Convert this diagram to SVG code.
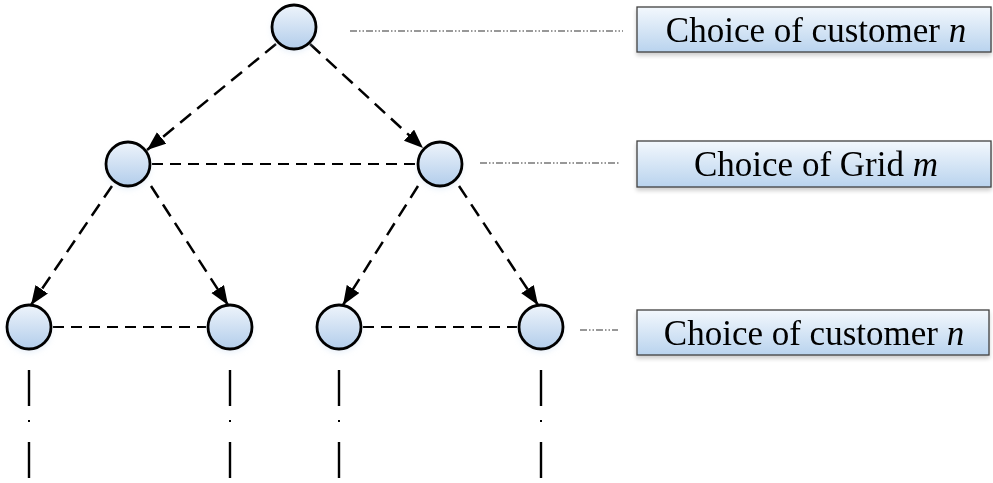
<svg xmlns="http://www.w3.org/2000/svg" width="993" height="483" viewBox="0 0 993 483">
  <style>
    .node { fill: url(#nodeFill); stroke: #000; stroke-width: 2.8; }
    .halo { fill: #c9dcf1; opacity: 0.5; filter: url(#soft); }
    .arrow { fill: none; stroke: #000; stroke-width: 2.5; stroke-dasharray: 14 8; }
    .link { fill: none; stroke: #000; stroke-width: 1.8; stroke-dasharray: 11 7; }
    .guide { fill: none; stroke: #333; stroke-width: 1.1; stroke-dasharray: 7 2 1.5 2 1.5 2; }
    .cont { fill: none; stroke: #000; stroke-width: 2.4; }
    .label-box { fill: url(#boxFill); stroke: #404040; stroke-width: 1.3; }
    .label { font-family: "Liberation Serif", "Times New Roman", serif; font-size: 35px; fill: #000; text-anchor: middle; }
  </style>
  <defs>
    <linearGradient id="nodeFill" x1="0" y1="0" x2="0" y2="1">
      <stop offset="0" stop-color="#eef4fb"/>
      <stop offset="1" stop-color="#b2cdeb"/>
    </linearGradient>
    <linearGradient id="boxFill" x1="0" y1="0" x2="0" y2="1">
      <stop offset="0" stop-color="#f3f8fd"/>
      <stop offset="1" stop-color="#b9d3ee"/>
    </linearGradient>
    <filter id="soft" x="-50%" y="-50%" width="200%" height="200%">
      <feGaussianBlur stdDeviation="3"/>
    </filter>
    <filter id="shadow" x="-5%" y="-20%" width="110%" height="160%">
      <feGaussianBlur in="SourceAlpha" stdDeviation="2"/>
      <feOffset dx="0" dy="3" result="b"/>
      <feComponentTransfer><feFuncA type="linear" slope="0.2"/></feComponentTransfer>
      <feMerge><feMergeNode/><feMergeNode in="SourceGraphic"/></feMerge>
    </filter>
    <marker id="head" markerUnits="userSpaceOnUse" markerWidth="20" markerHeight="16" refX="19" refY="7.5" orient="auto">
      <path d="M0,0 L19,7.5 L0,15 Z" fill="#000"/>
    </marker>
  </defs>

  <!-- connectors -->
  <g id="connectors">
    <path class="arrow" d="M276,44 L147,150" marker-end="url(#head)"/>
    <path class="arrow" d="M310,44 L423,148" marker-end="url(#head)"/>
    <path class="arrow" d="M112,186 L31,305" marker-end="url(#head)"/>
    <path class="arrow" d="M151,186 L228,305" marker-end="url(#head)"/>
    <path class="arrow" d="M418,186 L343,305" marker-end="url(#head)"/>
    <path class="arrow" d="M459,186 L538,305" marker-end="url(#head)"/>
    <path class="link" d="M152,164 H416"/>
    <path class="link" d="M53,327 H206"/>
    <path class="link" d="M363,327 H517"/>
    <path class="guide" d="M350,31 H623"/>
    <path class="guide" d="M480,163 H620"/>
    <path class="guide" d="M580,330 H618"/>
    <!-- continuation marks below the last level -->
    <path class="cont" d="M29,370 V406 M29,442 V478 M230,370 V406 M230,442 V478 M339,370 V406 M339,442 V478 M541,370 V406 M541,442 V478"/>
    <g fill="#000">
      <rect x="28" y="420" width="2" height="2"/>
      <rect x="229" y="420" width="2" height="2"/>
      <rect x="338" y="420" width="2" height="2"/>
      <rect x="540" y="420" width="2" height="2"/>
    </g>
  </g>

  <!-- nodes -->
  <g id="root"><circle class="halo" cx="294" cy="30" r="22"/><circle class="node" cx="294" cy="27" r="22"/></g>
  <g id="grid-left"><circle class="halo" cx="128" cy="167" r="22"/><circle class="node" cx="128" cy="164" r="22"/></g>
  <g id="grid-right"><circle class="halo" cx="440" cy="167" r="22"/><circle class="node" cx="440" cy="164" r="22"/></g>
  <g id="leaf-1"><circle class="halo" cx="29" cy="330" r="22"/><circle class="node" cx="29" cy="327" r="22"/></g>
  <g id="leaf-2"><circle class="halo" cx="230" cy="330" r="22"/><circle class="node" cx="230" cy="327" r="22"/></g>
  <g id="leaf-3"><circle class="halo" cx="339" cy="330" r="22"/><circle class="node" cx="339" cy="327" r="22"/></g>
  <g id="leaf-4"><circle class="halo" cx="541" cy="330" r="22"/><circle class="node" cx="541" cy="327" r="22"/></g>

  <!-- level labels -->
  <g id="label-customer-top" filter="url(#shadow)">
    <rect class="label-box" x="637" y="7" width="354" height="45"/>
    <text class="label" x="816" y="42">Choice of customer <tspan font-style="italic">n</tspan></text>
  </g>
  <g id="label-grid" filter="url(#shadow)">
    <rect class="label-box" x="637" y="141" width="354" height="46"/>
    <text class="label" x="816" y="176">Choice of Grid <tspan font-style="italic">m</tspan></text>
  </g>
  <g id="label-customer-bottom" filter="url(#shadow)">
    <rect class="label-box" x="637" y="310" width="352" height="45"/>
    <text class="label" x="814" y="345">Choice of customer <tspan font-style="italic">n</tspan></text>
  </g>
</svg>
